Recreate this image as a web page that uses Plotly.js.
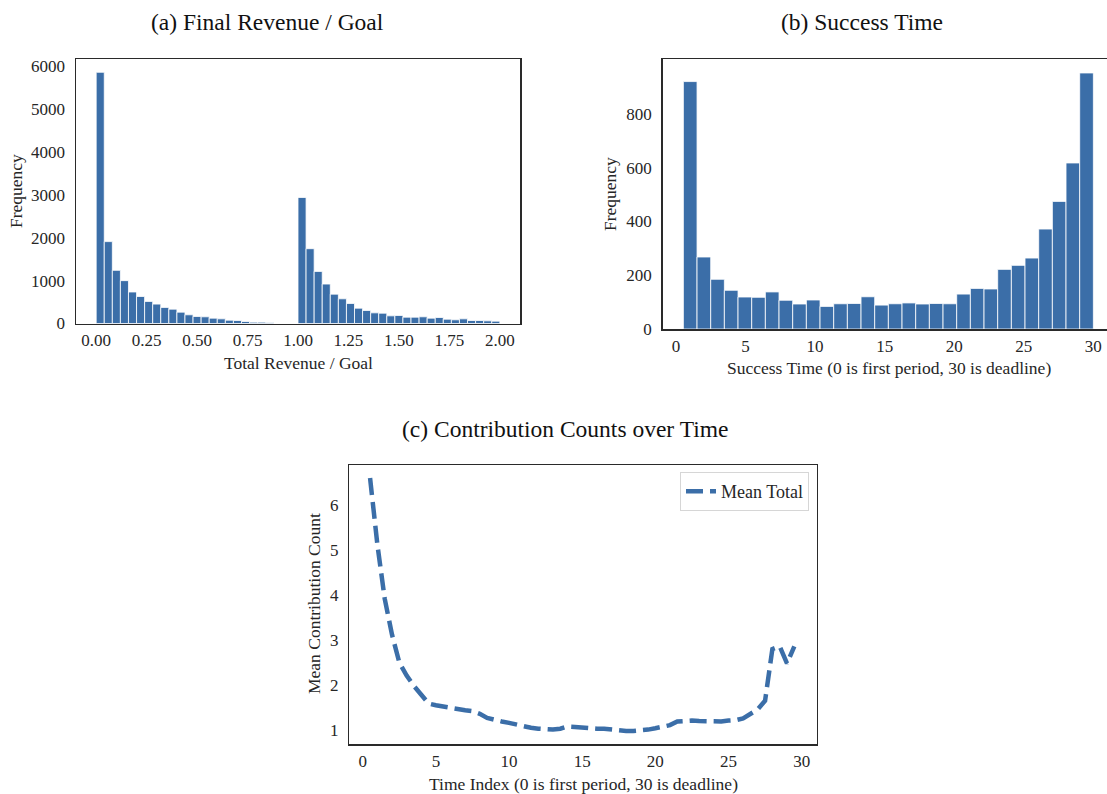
<!DOCTYPE html>
<html>
<head>
<meta charset="utf-8">
<script src="https://cdn.plot.ly/plotly-3.0.1.min.js"></script>
<style>html,body{margin:0;padding:0;background:#fff;}#chart{width:1107px;height:794px;}</style>
</head>
<body>
<div id="chart"></div>
<script>
// ---- Data ----
// (a) Final Revenue / Goal histogram: 50 bins of width 0.04 from 0 to 2
const revenueBinStart = 0;
const revenueBinWidth = 0.04;
const revenueCounts = [
  5860, 1910, 1240, 1000, 735, 630, 515, 452, 375, 335,
  265, 203, 164, 156, 125, 109, 78, 70, 47, 31,
  31, 23, 0, 0, 0,
  2940, 1745, 1215, 920, 685, 576, 467, 358, 304, 249,
  241, 179, 187, 148, 148, 156, 125, 140, 101, 86,
  109, 70, 70, 62, 55
];
const revenueTicks = [0, 0.25, 0.5, 0.75, 1.0, 1.25, 1.5, 1.75, 2.0];

// (b) Success Time histogram: 30 bins from ~0.53 to 30
const successBinStart = 0.53;
const successBinEnd = 30;
const successCounts = [
  921, 268, 185, 144, 119, 118, 138, 107, 93, 108,
  84, 94, 95, 120, 89, 94, 97, 93, 95, 94,
  130, 151, 149, 222, 237, 264, 372, 475, 618, 953
];

// (c) Mean contribution count over time
const timeIndex = [
  0.5, 1.0, 1.5, 2.0, 2.5, 3.0, 3.5, 4.0, 4.5, 5.0,
  5.5, 6.0, 6.5, 7.0, 7.5, 8.0, 8.5, 9.0, 9.5, 10.0,
  10.5, 11.0, 11.5, 12.0, 12.5, 13.0, 13.5, 14.0, 14.5, 15.0,
  15.5, 16.0, 16.5, 17.0, 17.5, 18.0, 18.5, 19.0, 19.5, 20.0,
  20.5, 21.0, 21.5, 22.0, 22.5, 23.0, 23.5, 24.0, 24.5, 25.0,
  25.5, 26.0, 26.5, 27.0, 27.5, 28.0, 28.5, 29.0, 29.5
];
const meanTotal = [
  6.60, 5.12, 3.92, 3.12, 2.50, 2.21, 1.98, 1.79, 1.59, 1.55,
  1.52, 1.48, 1.46, 1.44, 1.42, 1.36, 1.27, 1.22, 1.19, 1.16,
  1.12, 1.08, 1.05, 1.03, 1.02, 1.01, 1.03, 1.08, 1.07, 1.05,
  1.03, 1.03, 1.03, 1.01, 0.99, 0.98, 0.98, 0.99, 1.01, 1.04,
  1.07, 1.11, 1.19, 1.21, 1.21, 1.20, 1.19, 1.18, 1.19, 1.21,
  1.22, 1.26, 1.36, 1.46, 1.65, 2.80, 2.86, 2.48, 2.86
];

// ---- Derived bar geometry via the library's bar trace ----
const revenueCenters = revenueCounts.map((_, i) => revenueBinStart + revenueBinWidth * (i + 0.5));
const successWidth = (successBinEnd - successBinStart) / successCounts.length;
const successCenters = successCounts.map((_, i) => successBinStart + successWidth * (i + 0.5));

const W = 1107, H = 794;
const px = v => v / W;
const py = v => 1 - v / H;

const blue = '#3b6ea8';
const textCol = '#262626';
const FONT = 'Liberation Serif, Times New Roman, serif';

const traces = [
  {
    type: 'bar', x: revenueCenters, y: revenueCounts, width: revenueBinWidth,
    marker: { color: blue, line: { color: '#ffffff', width: 0.8 } },
    xaxis: 'x', yaxis: 'y', showlegend: false, hoverinfo: 'x+y'
  },
  {
    type: 'bar', x: successCenters, y: successCounts, width: successWidth,
    marker: { color: blue, line: { color: '#ffffff', width: 0.8 } },
    xaxis: 'x2', yaxis: 'y2', showlegend: false, hoverinfo: 'x+y'
  },
  {
    type: 'scatter', mode: 'lines', x: timeIndex, y: meanTotal, name: 'Mean Total',
    line: { color: blue, width: 4.5, dash: '17px,7px', shape: 'linear' },
    xaxis: 'x3', yaxis: 'y3', showlegend: true
  }
];

const axisBase = {
  showgrid: false, zeroline: false, showline: true, mirror: true,
  linecolor: '#2a2a2a', linewidth: 1.5,
  ticks: 'outside', ticklen: 6, tickcolor: 'rgba(0,0,0,0)',
  tickfont: { family: FONT, size: 17, color: textCol },
  automargin: false, fixedrange: true
};
const xAxisBase = Object.assign({}, axisBase, { ticklen: 1 });

const layout = {
  width: W, height: H,
  margin: { l: 0, r: 0, t: 0, b: 0 },
  paper_bgcolor: '#ffffff', plot_bgcolor: '#ffffff',
  font: { family: FONT, color: textCol },
  bargap: 0,
  xaxis: Object.assign({}, xAxisBase, {
    domain: [px(76), px(520)], anchor: 'y',
    range: [-0.1, 2.1], tickvals: revenueTicks, tickformat: '.2f'
  }),
  yaxis: Object.assign({}, axisBase, {
    domain: [py(323.5), py(59)], anchor: 'x',
    range: [0, 6170], tickvals: [0, 1000, 2000, 3000, 4000, 5000, 6000]
  }),
  xaxis2: Object.assign({}, xAxisBase, {
    domain: [px(662.7), 1], anchor: 'y2',
    range: [-0.956, 30.98], tickvals: [0, 5, 10, 15, 20, 25, 30]
  }),
  yaxis2: Object.assign({}, axisBase, {
    domain: [py(329), py(59)], anchor: 'x2',
    range: [0, 1005], tickvals: [0, 200, 400, 600, 800]
  }),
  xaxis3: Object.assign({}, xAxisBase, {
    domain: [px(349.3), px(816.7)], anchor: 'y3',
    range: [-0.92, 31.03], tickvals: [0, 5, 10, 15, 20, 25, 30]
  }),
  yaxis3: Object.assign({}, axisBase, {
    domain: [py(744), py(465)], anchor: 'x3',
    range: [0.69, 6.89], tickvals: [1, 2, 3, 4, 5, 6]
  }),
  legend: {
    x: px(809), xanchor: 'right', y: py(472), yanchor: 'top',
    bgcolor: '#ffffff', bordercolor: '#d6d6d6', borderwidth: 1,
    font: { family: FONT, size: 18, color: textCol },
    itemwidth: 30
  },
  annotations: [
    { text: '(a) Final Revenue / Goal', x: px(267), y: py(22), size: 23.5 },
    { text: '(b) Success Time', x: px(862), y: py(22), size: 23.5 },
    { text: '(c) Contribution Counts over Time', x: px(565), y: py(429), size: 23.5 },
    { text: 'Total Revenue / Goal', x: px(298), y: py(363), size: 17.5 },
    { text: 'Frequency', x: px(16), y: py(191), size: 17.5, angle: -90 },
    { text: 'Success Time (0 is first period, 30 is deadline)', x: px(889), y: py(368), size: 17.5 },
    { text: 'Frequency', x: px(610), y: py(194), size: 17.5, angle: -90 },
    { text: 'Time Index (0 is first period, 30 is deadline)', x: px(584), y: py(784), size: 17.5 },
    { text: 'Mean Contribution Count', x: px(314), y: py(604), size: 17.5, angle: -90 }
  ].map(a => ({
    text: a.text, xref: 'paper', yref: 'paper', x: a.x, y: a.y,
    xanchor: 'center', yanchor: 'middle', showarrow: false,
    textangle: a.angle || 0,
    font: { family: FONT, size: a.size, color: a.size > 20 ? '#111111' : textCol }
  }))
};

Plotly.newPlot('chart', traces, layout, { staticPlot: true, displayModeBar: false });
</script>
</body>
</html>
